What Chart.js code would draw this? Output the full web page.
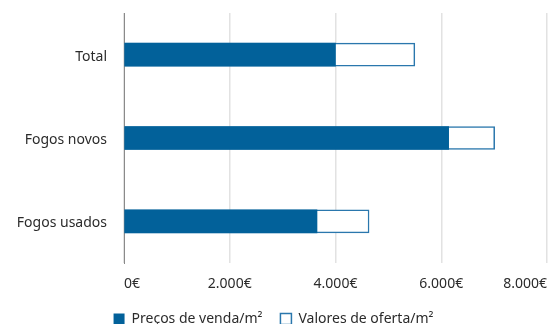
<!DOCTYPE html>
<html>
<head>
<meta charset="utf-8">
<script src="https://cdn.jsdelivr.net/npm/chart.js@4"></script>
<style>
  html, body { margin: 0; padding: 0; background: #fff; overflow: hidden; }
  #wrap { position: relative; width: 550px; height: 336px; }
</style>
</head>
<body>
<div id="wrap"><canvas id="precos"></canvas></div>
<script>
// Preços por m2: venda vs oferta
var categorias = ["Total", "Fogos novos", "Fogos usados"];
var precosVenda = [4000, 6140, 3650];
var valoresOferta = [5500, 7010, 4635];
var eixoTicks = [0, 2000, 4000, 6000, 8000];

var azul = "#02619a";
var texto = "#2b2b2b";
var fonte = "'Noto Sans', 'Open Sans', sans-serif";

function euros(v) {
  return String(v).replace(/\B(?=(\d{3})+(?!\d))/g, ".") + "€";
}

new Chart("precos", {
  type: "bar",
  data: {
    labels: categorias,
    datasets: [{
      label: "Preços de venda/m²",
      data: precosVenda,
      backgroundColor: azul,
      borderWidth: 0,
      grouped: false,
      barThickness: 23
    }, {
      label: "Valores de oferta/m²",
      data: valoresOferta,
      backgroundColor: "#ffffff",
      borderColor: "#2a77ad",
      borderWidth: 1.5,
      borderSkipped: false,
      grouped: false,
      barThickness: 23
    }]
  },
  options: {
    indexAxis: "y",
    responsive: true,
    maintainAspectRatio: false,
    animation: false,
    layout: { padding: { top: 13, right: 3, left: 0, bottom: 0 } },
    plugins: {
      legend: {
        position: "bottom",
        labels: {
          boxWidth: 11,
          boxHeight: 11,
          padding: 18,
          color: texto,
          font: { family: fonte, size: 14 }
        }
      },
      tooltip: { enabled: false }
    },
    scales: {
      x: {
        min: 0,
        max: 8000,
        afterBuildTicks: function (s) {
          s.ticks = eixoTicks.map(function (v) { return { value: v }; });
        },
        afterFit: function (s) {
          s.height = 31;
          s.paddingLeft = 0;
          s.paddingRight = 0;
        },
        grid: { color: "#e2e2e2", lineWidth: 1.5, drawTicks: false },
        border: { display: false },
        ticks: {
          align: "inner",
          padding: 13,
          color: texto,
          font: { family: fonte, size: 14 },
          callback: function (v) { return euros(v); }
        }
      },
      y: {
        afterFit: function (s) {
          s.width = 124;
          s.paddingTop = 0;
          s.paddingBottom = 0;
        },
        grid: { display: false, drawTicks: false },
        border: { display: true, color: "#8a8a8a", width: 1 },
        ticks: {
          padding: 17,
          labelOffset: 2,
          color: texto,
          font: { family: fonte, size: 14 }
        }
      }
    }
  }
});
</script>
</body>
</html>
